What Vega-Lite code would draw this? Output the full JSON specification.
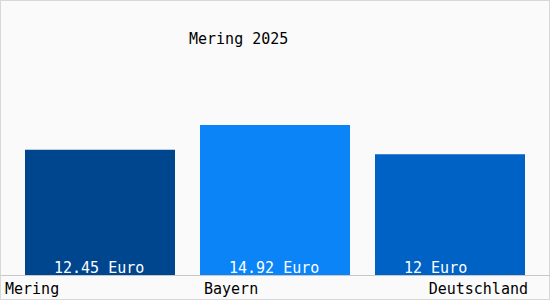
{
  "$schema": "https://vega.github.io/schema/vega-lite/v6.json",
  "width": 550,
  "height": 300,
  "padding": 0,
  "autosize": {"type": "none"},
  "background": "#fafafa",
  "config": {
    "view": {"stroke": "#d8d8d8", "strokeWidth": 2},
    "font": "DejaVu Sans Mono"
  },
  "title": {
    "text": "Mering 2025",
    "anchor": "start",
    "frame": "group",
    "dx": 189,
    "dy": 59,
    "offset": 0,
    "baseline": "alphabetic",
    "font": "DejaVu Sans Mono",
    "fontSize": 15,
    "fontWeight": "normal",
    "color": "#000000"
  },
  "data": {
    "values": [
      {"name": "Mering", "value": 12.45, "label": "12.45 Euro"},
      {"name": "Bayern", "value": 14.92, "label": "14.92 Euro"},
      {"name": "Deutschland", "value": 12, "label": "12 Euro"}
    ]
  },
  "encoding": {
    "x": {
      "field": "name",
      "type": "nominal",
      "sort": null,
      "scale": {"paddingInner": 0.142857, "paddingOuter": 0.142857},
      "axis": {
        "title": null,
        "offset": -25,
        "domainColor": "#c8c8c8",
        "domainWidth": 1,
        "ticks": false,
        "tickSize": 0,
        "labelAngle": 0,
        "labelFont": "DejaVu Sans Mono",
        "labelFontSize": 15,
        "labelColor": "#000000",
        "labelBaseline": "alphabetic",
        "labelPadding": 18,
        "labelAlign": {"condition": {"test": "datum.value == 'Deutschland'", "value": "right"}, "value": "left"},
        "labelOffset": {"condition": [{"test": "datum.value == 'Mering'", "value": -95}, {"test": "datum.value == 'Bayern'", "value": -71}], "value": 78}
      }
    }
  },
  "layer": [
    {
      "mark": {"type": "bar"},
      "encoding": {
        "y": {
          "field": "value",
          "type": "quantitative",
          "scale": {"domain": [-2.49, 27.36], "nice": false, "zero": false},
          "axis": null
        },
        "color": {
          "field": "name",
          "type": "nominal",
          "scale": {"domain": ["Mering", "Bayern", "Deutschland"], "range": ["#00468f", "#0a84f6", "#0062c4"]},
          "legend": null
        }
      }
    },
    {
      "mark": {"type": "text", "align": "left", "baseline": "alphabetic", "dx": 29, "dy": -2, "fontSize": 15, "font": "DejaVu Sans Mono", "color": "#ffffff"},
      "encoding": {
        "x": {"field": "name", "type": "nominal", "sort": null, "bandPosition": 0},
        "y": {"datum": 0, "type": "quantitative", "scale": {"domain": [-2.49, 27.36], "nice": false, "zero": false}},
        "text": {"field": "label"}
      }
    }
  ]
}
